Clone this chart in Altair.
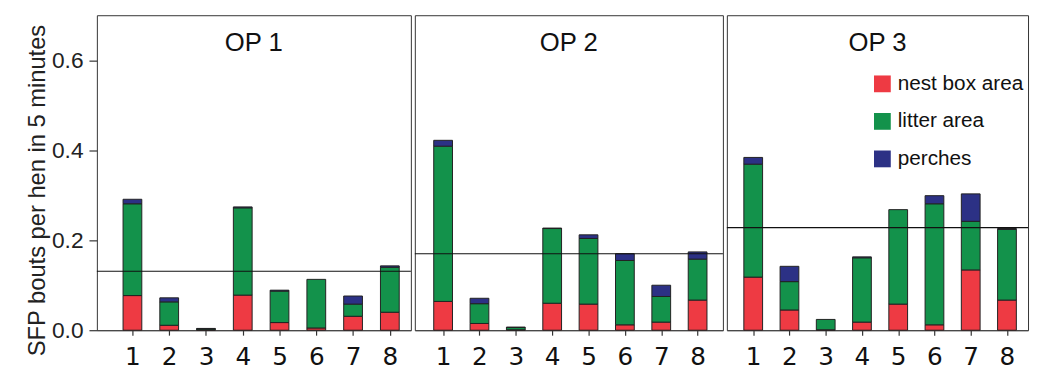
import altair as alt
import pandas as pd

categories = ["nest box area", "litter area", "perches"]
colors = ["#EE3A43", "#13924B", "#2C3185"]
hens = [1, 2, 3, 4, 5, 6, 7, 8]
panels = ["OP 1", "OP 2", "OP 3"]

op1_nest = [0.077, 0.011, 0.001, 0.078, 0.017, 0.005, 0.031, 0.040]
op1_litter = [0.204, 0.052, 0.002, 0.194, 0.070, 0.108, 0.027, 0.100]
op1_perch = [0.010, 0.009, 0.001, 0.002, 0.002, 0.000, 0.018, 0.003]
op1_mean = 0.131

op2_nest = [0.064, 0.015, 0.001, 0.060, 0.058, 0.012, 0.018, 0.067]
op2_litter = [0.345, 0.044, 0.005, 0.166, 0.146, 0.143, 0.057, 0.091]
op2_perch = [0.013, 0.012, 0.001, 0.001, 0.008, 0.015, 0.025, 0.016]
op2_mean = 0.170

op3_nest = [0.118, 0.045, 0.001, 0.018, 0.058, 0.012, 0.134, 0.067]
op3_litter = [0.251, 0.063, 0.023, 0.143, 0.210, 0.269, 0.108, 0.157]
op3_perch = [0.015, 0.034, 0.000, 0.002, 0.000, 0.018, 0.061, 0.002]
op3_mean = 0.228

series = [
    (op1_nest, op1_litter, op1_perch, op1_mean),
    (op2_nest, op2_litter, op2_perch, op2_mean),
    (op3_nest, op3_litter, op3_perch, op3_mean),
]

widths = [318, 312, 305]
xdomains = [[0.033, 8.572], [0.222, 8.696], [0.273, 8.581]]
H = 319

LEG = alt.Legend(
    title=None, orient="none", legendX=785, legendY=59,
    symbolType="square", symbolSize=289, symbolStrokeWidth=0,
    labelFontSize=21, labelFont="Liberation Sans", labelColor="#111",
    rowPadding=16, labelOffset=5, padding=0,
)

YAXIS = alt.Axis(
    title="SFP bouts per hen in 5 minutes", values=[0, 0.2, 0.4, 0.6],
    format=".1f", grid=False, tickSize=8, labelPadding=6,
    labelFontSize=23, labelFont="Liberation Sans", labelColor="#222",
    titleFontSize=24, titleFont="Liberation Sans", titleFontWeight="normal",
    titleColor="#222", titlePadding=2, titleY=177,
    domain=False, ticks=True, tickColor="#333", tickWidth=1.2,
)

charts = []
for i, (nest, litter, perch, mean) in enumerate(series):
    rows = []
    for k, vals in enumerate([nest, litter, perch]):
        for h, v in zip(hens, vals):
            if v > 0:
                rows.append({"hen": h, "loc": categories[k], "k": k, "value": v})
    df = pd.DataFrame(rows)
    yaxis = YAXIS if i == 0 else None
    bars = alt.Chart(df).mark_bar(size=19, stroke="#222", strokeWidth=1).encode(
        x=alt.X("hen:Q", scale=alt.Scale(domain=xdomains[i], nice=False, zero=False, padding=0),
                axis=alt.Axis(title=None, values=hens, format="d", grid=False,
                              ticks=True, tickSize=5, tickWidth=1.2, labelPadding=10,
                              labelFontSize=25, labelFont="DejaVu Sans", labelColor="#111",
                              domainColor="#444", tickColor="#333")),
        y=alt.Y("value:Q", stack="zero", scale=alt.Scale(domain=[0, 0.7], nice=False, padding=0),
                axis=yaxis, title="SFP bouts per hen in 5 minutes"),
        color=alt.Color("loc:N", scale=alt.Scale(domain=categories, range=colors), legend=LEG),
        order=alt.Order("k:Q", sort="ascending"),
    )
    rule = alt.Chart(pd.DataFrame({"m": [mean]})).mark_rule(color="#111", strokeWidth=1.2).encode(
        y=alt.Y("m:Q", scale=alt.Scale(domain=[0, 0.7], nice=False), axis=yaxis,
                title="SFP bouts per hen in 5 minutes")
    )
    label = alt.Chart(pd.DataFrame({"t": [panels[i]]})).mark_text(
        fontSize=26, font="Liberation Sans", color="#111", baseline="alphabetic", align="center"
    ).encode(text="t:N", x=alt.value(widths[i] / 2), y=alt.value(36))
    charts.append(alt.layer(bars, rule, label).properties(width=widths[i], height=H))

chart = alt.hconcat(*charts, spacing=0).resolve_scale(color="shared").properties(
    padding={"left": 17, "top": 4, "right": 0, "bottom": 0}
).configure_view(stroke="#333", strokeWidth=1)

chart.save("out.html", embed_options={"renderer": "svg", "actions": False})
